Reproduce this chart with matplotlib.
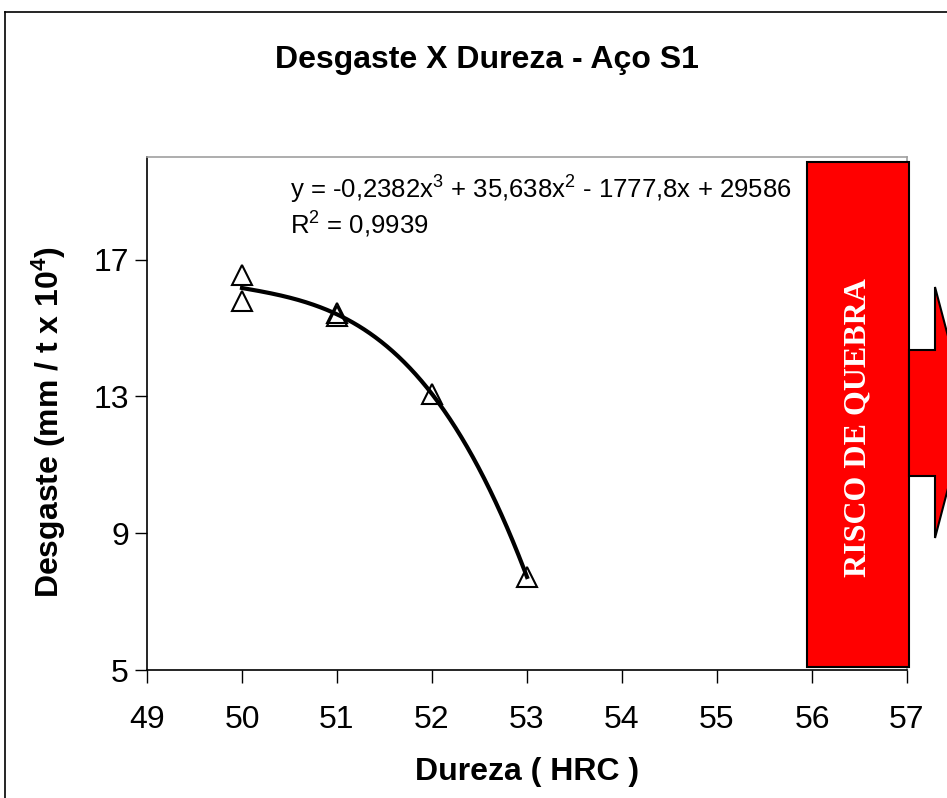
import numpy as np
import matplotlib
matplotlib.use("Agg")
import matplotlib.pyplot as plt
from matplotlib.patches import Polygon, Rectangle
from matplotlib.lines import Line2D

# Data
dureza = [50, 50, 51, 51, 52, 53]
desgaste = [16.56, 15.78, 15.45, 15.35, 13.07, 7.72]
x_ticks = [49, 50, 51, 52, 53, 54, 55, 56, 57]
y_ticks = [5, 9, 13, 17]
title = "Desgaste X Dureza - Aço S1"
xlabel = "Dureza ( HRC )"
ylabel = "Desgaste (mm / t x 10$^\\mathbf{4}$)"
eq_text = "y = -0,2382x$^3$ + 35,638x$^2$ - 1777,8x + 29586"
r2_text = "R$^2$ = 0,9939"
risk_text = "RISCO DE QUEBRA"

plt.rcParams['font.family'] = ['Liberation Sans', 'DejaVu Sans']
plt.rcParams['mathtext.fontset'] = 'custom'
plt.rcParams['mathtext.rm'] = 'Liberation Sans'
plt.rcParams['mathtext.it'] = 'Liberation Sans:italic'
plt.rcParams['mathtext.bf'] = 'Liberation Sans:bold'

W, H = 947, 798
fig = plt.figure(figsize=(W / 100, H / 100), dpi=100)
ax = fig.add_axes([147 / W, 1 - 670 / H, (907 - 147) / W, (670 - 157) / H])

# cubic trendline fitted to the data
coef = np.polyfit(dureza, desgaste, 3)
xs = np.linspace(min(dureza), max(dureza), 300)
ax.plot(xs, np.polyval(coef, xs), color='black', lw=3, zorder=3)
ax.plot(dureza, desgaste, linestyle='none', marker='^', markersize=14,
        markerfacecolor='none', markeredgecolor='black', markeredgewidth=1.5, zorder=4)

ax.set_xlim(49, 57)
ax.set_ylim(5, 20)
ax.set_xticks(x_ticks)
ax.set_yticks(y_ticks)
ax.tick_params(axis='both', labelsize=23, direction='out', length=9, width=1)
ax.tick_params(axis='x', pad=16)
ax.tick_params(axis='y', pad=4)
for s in ['left', 'bottom']:
    ax.spines[s].set_color('black')
    ax.spines[s].set_linewidth(1.2)
for s in ['top', 'right']:
    ax.spines[s].set_color('#a0a0a0')
    ax.spines[s].set_linewidth(1.2)

ax.set_xlabel(xlabel, fontsize=23, fontweight='bold', labelpad=16)
ax.set_ylabel(ylabel, fontsize=23, fontweight='bold')
ax.yaxis.set_label_coords(-0.104, 0.483)

fig.text(487 / W, 1 - 60 / H, title, fontsize=23, fontweight='bold', ha='center', va='center')
fig.text(290 / W, 1 - 190 / H, eq_text, fontsize=18.5, ha='left', va='center')
fig.text(290 / W, 1 - 225 / H, r2_text, fontsize=18.5, ha='left', va='center')

# red risk box and arrow
box = Rectangle((807 / W, 1 - 667 / H), (909 - 807) / W, (667 - 162) / H,
                transform=fig.transFigure, facecolor='#ff0000', edgecolor='black', lw=1.5, zorder=5)
fig.add_artist(box)
arrow = Polygon([(909 / W, 1 - 350 / H), (935 / W, 1 - 350 / H), (935 / W, 1 - 287 / H),
                 (968 / W, 1 - 412 / H), (935 / W, 1 - 538 / H), (935 / W, 1 - 476 / H),
                 (909 / W, 1 - 476 / H)],
                closed=True, transform=fig.transFigure, facecolor='#ff0000',
                edgecolor='black', lw=1.5, zorder=5)
fig.add_artist(arrow)
fig.text(858 / W, 1 - 428 / H, risk_text, rotation=90, fontsize=23, fontweight='bold',
         family=['Liberation Serif'], color='white', ha='center', va='center', zorder=6)

# outer chart border
fig.add_artist(Line2D([5 / W, 5 / W], [0, 1 - 12 / H], transform=fig.transFigure, color='black', lw=1.2))
fig.add_artist(Line2D([5 / W, 1], [1 - 12 / H, 1 - 12 / H], transform=fig.transFigure, color='black', lw=1.2))

fig.savefig('out.png', dpi=100)
